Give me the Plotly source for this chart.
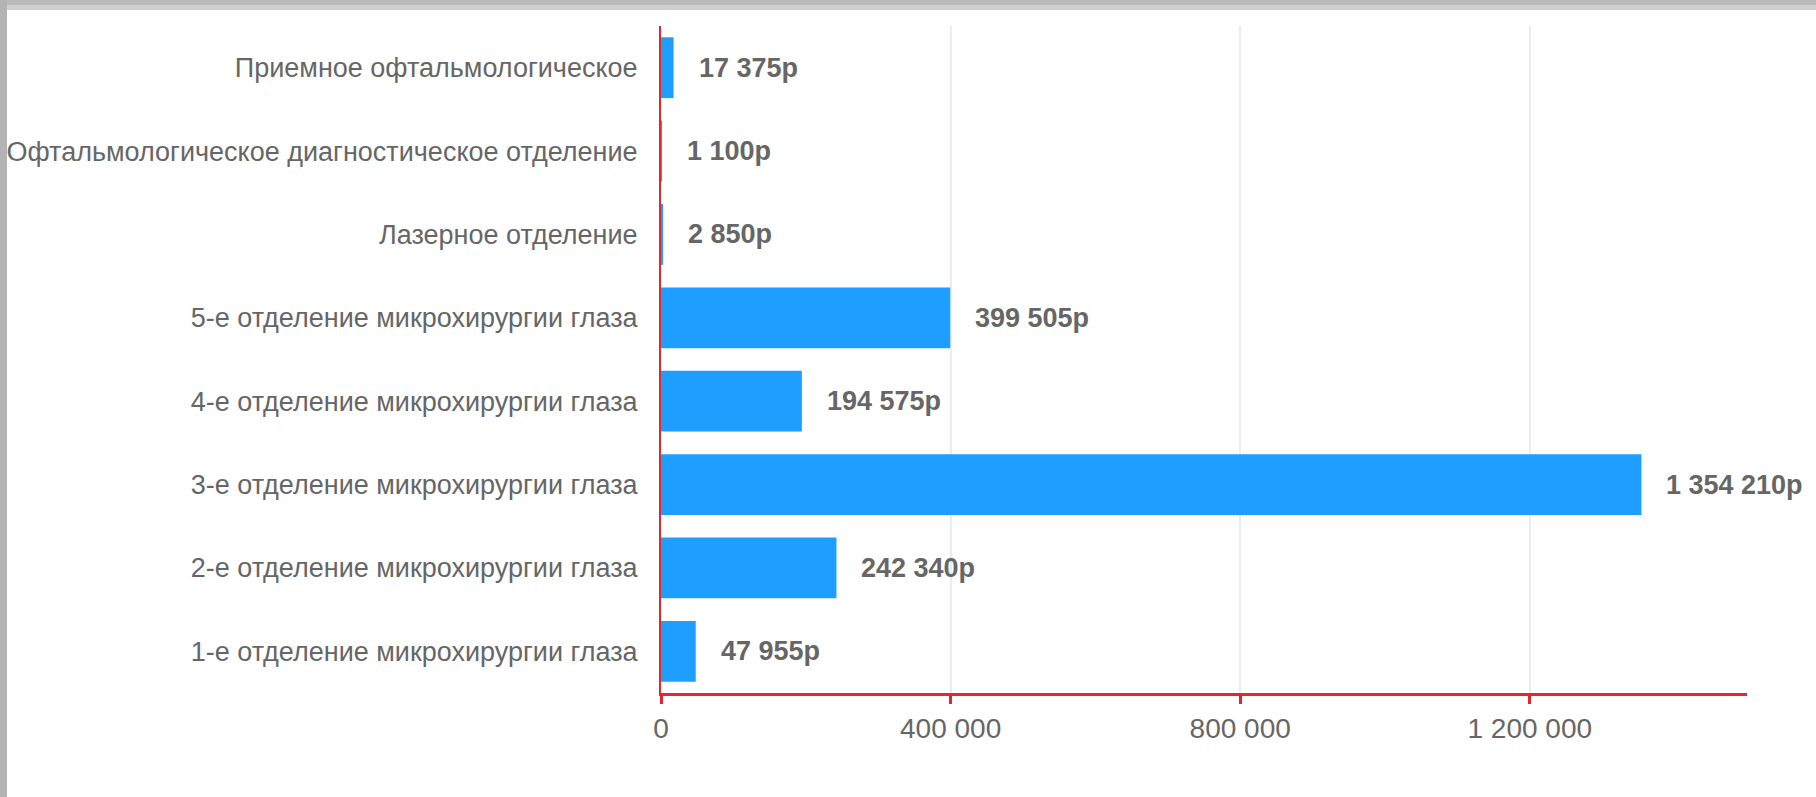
import plotly.graph_objects as go

categories = [
    "Приемное офтальмологическое",
    "Офтальмологическое диагностическое отделение",
    "Лазерное отделение",
    "5-е отделение микрохирургии глаза",
    "4-е отделение микрохирургии глаза",
    "3-е отделение микрохирургии глаза",
    "2-е отделение микрохирургии глаза",
    "1-е отделение микрохирургии глаза",
]
values = [17375, 1100, 2850, 399505, 194575, 1354210, 242340, 47955]
tick_vals = [0, 400000, 800000, 1200000]
tick_text = ["0", "400 000", "800 000", "1 200 000"]


def fmt(v):
    return f"{v:,}".replace(",", " ") + "р"


W, H = 1816, 797
ML, MR, MT, MB = 661, 69, 26, 104
PW, PH = W - ML - MR, H - MT - MB

RED = "#e8242d"
GREY = "#666666"
FONT = "Liberation Sans, Arial, sans-serif"

fig = go.Figure()
fig.add_trace(go.Bar(
    x=values, y=categories, orientation="h",
    marker=dict(color="#1e9eff", line=dict(width=0)),
    hoverinfo="x+y",
))

for c, v in zip(categories, values):
    fig.add_annotation(
        x=v, y=c, xref="x", yref="y", text=fmt(v), showarrow=False,
        xanchor="left", yanchor="middle", xshift=23,
        font=dict(family=FONT, size=27, color=GREY, weight="bold"),
    )


def px(xp):
    return (xp - ML) / PW


def py(yp):
    return (H - MB - yp) / PH


shapes = [
    dict(type="rect", xref="paper", yref="paper", x0=px(0), x1=px(W), y0=py(5), y1=py(0),
         fillcolor="#bababa", line=dict(width=0), layer="above"),
    dict(type="rect", xref="paper", yref="paper", x0=px(0), x1=px(W), y0=py(10), y1=py(5),
         fillcolor="#cfcfcf", line=dict(width=0), layer="above"),
    dict(type="rect", xref="paper", yref="paper", x0=px(0), x1=px(7), y0=py(H), y1=py(0),
         fillcolor="#b3b3b3", line=dict(width=0), layer="above"),
]

fig.update_layout(
    width=W, height=H,
    margin=dict(l=ML, r=MR, t=MT, b=MB, pad=0, autoexpand=False),
    paper_bgcolor="#ffffff", plot_bgcolor="#ffffff",
    bargap=0.27, showlegend=False,
    font=dict(family=FONT, size=27, color=GREY),
    shapes=shapes,
    xaxis=dict(
        range=[0, 1500000], tickvals=tick_vals, ticktext=tick_text,
        showgrid=True, gridcolor="#ececec", gridwidth=2,
        zeroline=False, showline=True, linecolor=RED, linewidth=3,
        ticks="outside", ticklen=8, tickwidth=3, tickcolor=RED,
        tickfont=dict(family=FONT, size=28, color=GREY),
        fixedrange=True, automargin=False,
    ),
    yaxis=dict(
        categoryorder="array", categoryarray=categories, autorange="reversed",
        showgrid=False, zeroline=False, showline=True, linecolor=RED, linewidth=2,
        ticks="", ticklabelstandoff=16,
        tickfont=dict(family=FONT, size=27, color=GREY),
        fixedrange=True, automargin=False,
    ),
)

fig.write_html(
    "out.html",
    config={"displayModeBar": False},
    post_script="document.body.style.margin='0';document.body.style.overflow='hidden';",
)
